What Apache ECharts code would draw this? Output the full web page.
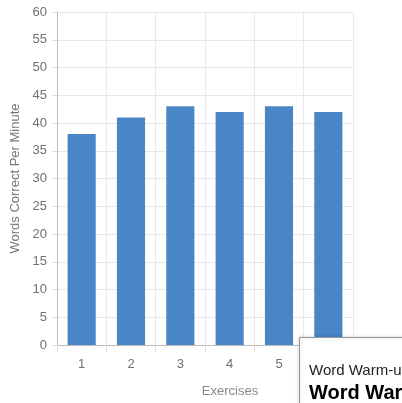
<!DOCTYPE html>
<html>
<head>
<meta charset="utf-8">
<script src="https://cdn.jsdelivr.net/npm/echarts@6/dist/echarts.min.js"></script>
<style>html,body{margin:0;padding:0;background:#fff}#c{width:402px;height:403px}</style>
</head>
<body>
<div id="c"></div>
<script>
const categories = ['1', '2', '3', '4', '5', '6'];
const values = [38, 41, 43, 42, 43, 42];
const yTicks = { min: 0, max: 60, interval: 5 };
const xName = 'Exercises';
const yName = 'Words Correct Per Minute';
const tipSmall = 'Word Warm-up';
const tipBig = 'Word Warm-up';

const chart = echarts.init(document.getElementById('c'), null, { renderer: 'canvas' });
const FONT = 'Liberation Sans, Arial, sans-serif';
chart.setOption({
  animation: false,
  grid: { left: 57, top: 12, right: 49, bottom: 56, containLabel: false },
  xAxis: {
    type: 'category',
    data: categories,
    name: xName,
    nameLocation: 'middle',
    nameGap: 40,
    nameTextStyle: { color: '#888', fontSize: 13, fontFamily: FONT, padding: [0, 0, 0, 50] },
    axisLine: { lineStyle: { color: '#bbb' } },
    axisTick: { show: true, length: 7, lineStyle: { color: '#ddd' } },
    axisLabel: { color: '#707070', fontSize: 13, fontFamily: FONT, margin: 13 },
    splitLine: { show: true, lineStyle: { color: '#e8e8e8' } }
  },
  yAxis: {
    type: 'value',
    min: yTicks.min, max: yTicks.max, interval: yTicks.interval,
    name: yName,
    nameLocation: 'middle',
    nameGap: 33,
    nameTextStyle: { color: '#777', fontSize: 13, fontFamily: FONT },
    axisLine: { show: true, lineStyle: { color: '#bbb' } },
    axisTick: { show: true, length: 5, lineStyle: { color: '#ddd' } },
    axisLabel: { color: '#707070', fontSize: 13, fontFamily: FONT, margin: 10 },
    splitLine: { show: true, lineStyle: { color: '#e8e8e8' } }
  },
  series: [{
    type: 'bar',
    data: values,
    barCategoryGap: '43%',
    itemStyle: { color: '#4a86c5' }
  }],
  graphic: [
    { type: 'rect', left: 299, top: 337, z: 100,
      shape: { width: 130, height: 90 },
      style: { fill: '#fff', stroke: '#999', lineWidth: 1, shadowBlur: 4, shadowColor: 'rgba(0,0,0,0.2)' } },
    { type: 'text', x: 309, y: 378, z: 101,
      style: { text: tipSmall, fill: '#222', font: '15px ' + FONT, textVerticalAlign: 'bottom' } },
    { type: 'text', x: 309, y: 403, z: 101,
      style: { text: tipBig, fill: '#000', font: 'bold 20px ' + FONT, textVerticalAlign: 'bottom' } }
  ]
});
</script>
</body>
</html>
